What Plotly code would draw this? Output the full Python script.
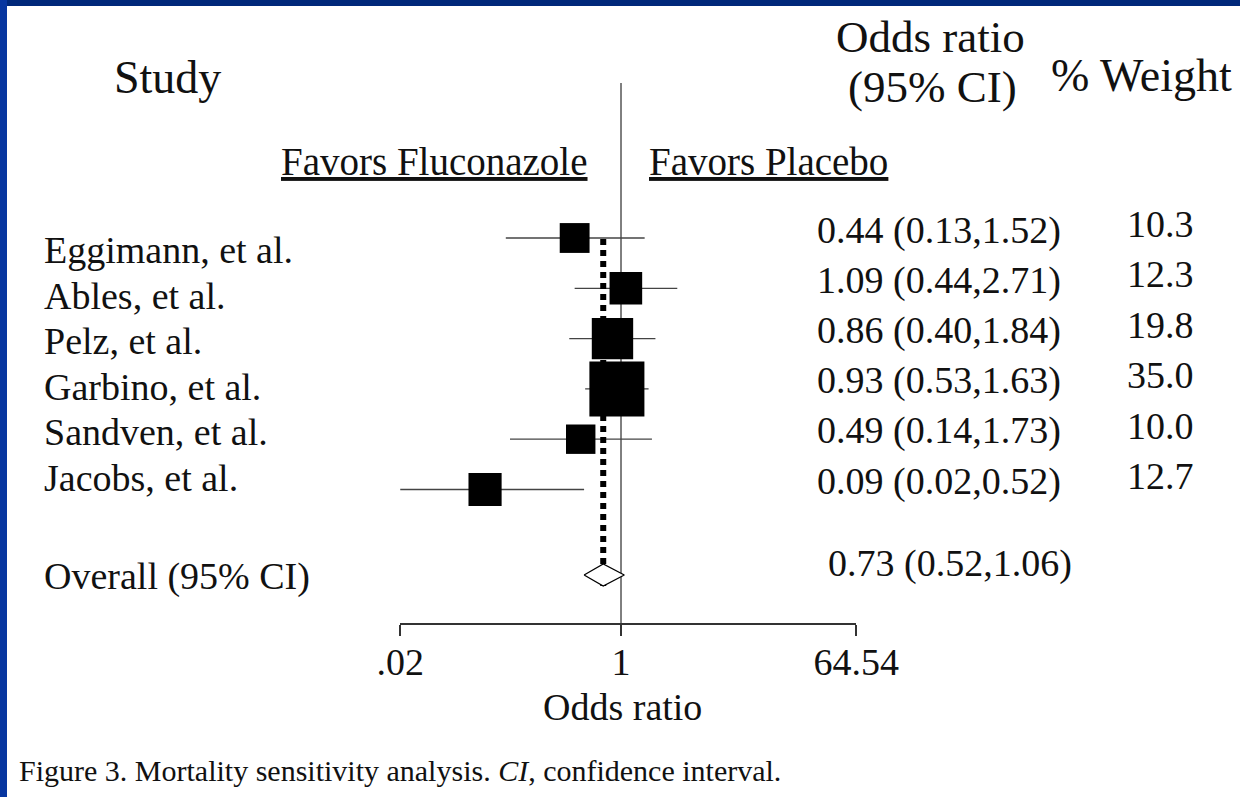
import numpy as np
import plotly.graph_objects as go

# ---------------- data ----------------
studies = ["Eggimann, et al.", "Ables, et al.", "Pelz, et al.", "Garbino, et al.",
           "Sandven, et al.", "Jacobs, et al."]
odds_ratio = [0.44, 1.09, 0.86, 0.93, 0.49, 0.09]
ci_low = [0.13, 0.44, 0.40, 0.53, 0.14, 0.02]
ci_high = [1.52, 2.71, 1.84, 1.63, 1.73, 0.52]
weight_pct = [10.3, 12.3, 19.8, 35.0, 10.0, 12.7]

overall_label = "Overall (95% CI)"
overall_or = 0.73
overall_low = 0.52
overall_high = 1.06

tick_values = [0.02, 1, 64.54]
tick_labels = [".02", "1", "64.54"]

# ---------------- layout constants (pixels) ----------------
W, H = 1240, 797
PX_PER_DEC = 130.0
X_ONE = 621.0
ROW0 = 238.0
ROW_STEP = 50.3
OVERALL_ROW = 6.7
AXIS_Y = 623.0
FONT = "Liberation Serif"
TXT = "#111111"

x0_px = X_ONE + PX_PER_DEC * np.log10(tick_values[0])
x1_px = X_ONE + PX_PER_DEC * np.log10(tick_values[-1])

def px(xp):
    return xp / W

def py(yp):
    return 1 - yp / H

rows = np.arange(len(studies))
or_arr = np.array(odds_ratio)
lo_arr = np.array(ci_low)
hi_arr = np.array(ci_high)
w_arr = np.array(weight_pct)

fig = go.Figure()

# study squares with CI whiskers
fig.add_trace(go.Scatter(
    x=or_arr, y=rows, mode="markers",
    marker=dict(symbol="square", color="black", opacity=1, size=9.3 * np.sqrt(w_arr),
                line=dict(width=0)),
    error_x=dict(type="data", symmetric=False, array=hi_arr - or_arr,
                 arrayminus=or_arr - lo_arr, width=0, thickness=1.3, color="#444444"),
    showlegend=False, hoverinfo="skip"))

# dotted line at pooled estimate
fig.add_trace(go.Scatter(
    x=[overall_or, overall_or], y=[rows[0] + 0.02, OVERALL_ROW + 0.26], mode="lines",
    line=dict(color="black", width=6, dash="6px,5px"),
    showlegend=False, hoverinfo="skip"))

# pooled diamond
dh = 0.22
fig.add_trace(go.Scatter(
    x=[overall_low, overall_or, overall_high, overall_or, overall_low],
    y=[OVERALL_ROW, OVERALL_ROW - dh, OVERALL_ROW, OVERALL_ROW + dh, OVERALL_ROW],
    mode="lines", fill="toself", fillcolor="white",
    line=dict(color="black", width=1.3),
    showlegend=False, hoverinfo="skip"))

# null line at OR = 1
fig.add_shape(type="line", xref="x", yref="paper", x0=1, x1=1,
              y0=py(AXIS_Y), y1=py(83), line=dict(color="#555555", width=1.5), layer="below")

annotations = []

def ann(text, x, y, size, xanchor="center", **kw):
    annotations.append(dict(text=text, x=px(x), y=py(y), xref="paper", yref="paper",
                            xanchor=xanchor, yanchor="middle", showarrow=False,
                            font=dict(family=FONT, size=size, color=TXT), **kw))

# headers
ann("Study", 167, 77, 46)
ann("Odds ratio", 930, 37, 45)
ann("(95% CI)", 932, 87, 45)
ann("% Weight", 1141, 75, 46)
ann("<u>Favors Fluconazole</u>", 434, 161, 39)
ann("<u>Favors Placebo</u>", 768, 161, 39)

# study labels
for i, s in enumerate(studies):
    ann(s, 42, 250 + 45.5 * i, 38, xanchor="left")
ann(overall_label, 42, 576, 38, xanchor="left")

# OR text
for i in range(len(studies)):
    ann(f"{odds_ratio[i]:.2f} ({ci_low[i]:.2f},{ci_high[i]:.2f})", 815, 230.5 + 50.1 * i, 38,
        xanchor="left")
ann(f"{overall_or:.2f} ({overall_low:.2f},{overall_high:.2f})", 826, 563, 38, xanchor="left")

# weights
for i, w in enumerate(weight_pct):
    ann(f"{w:.1f}", 1196, 224 + 50.4 * i, 38, xanchor="right")

# x-axis title
ann("Odds ratio", 622, 707, 38)

# caption
ann("Figure 3. Mortality sensitivity analysis. <i>CI</i>, confidence interval.", 17, 770, 30,
    xanchor="left")

# blue frame (top and left)
shapes = [
    dict(type="rect", xref="paper", yref="paper", x0=0, x1=1, y0=py(6), y1=1,
         fillcolor="#00287a", line=dict(width=0), layer="above"),
    dict(type="rect", xref="paper", yref="paper", x0=0, x1=px(7), y0=0, y1=1,
         fillcolor="#0736a0", line=dict(width=0), layer="above"),
]
for s in shapes:
    fig.add_shape(**s)

fig.update_layout(
    width=W, height=H,
    margin=dict(l=0, r=0, t=0, b=0, pad=0, autoexpand=False),
    paper_bgcolor="white", plot_bgcolor="white",
    annotations=annotations,
    xaxis=dict(type="log", domain=[px(x0_px), px(x1_px)],
               range=[np.log10(tick_values[0]), np.log10(tick_values[-1])],
               tickmode="array", tickvals=tick_values, ticktext=tick_labels,
               ticks="outside", ticklen=11, tickwidth=2, tickcolor="#333333",
               ticklabelstandoff=-7,
               showline=True, linecolor="#333333", linewidth=2,
               showgrid=False, zeroline=False, automargin=False,
               tickfont=dict(family=FONT, size=38, color=TXT),
               fixedrange=True),
    yaxis=dict(domain=[py(AXIS_Y), 1], range=[(AXIS_Y - ROW0) / ROW_STEP, -ROW0 / ROW_STEP],
               visible=False, fixedrange=True, automargin=False),
)

fig.write_html("out.html")
